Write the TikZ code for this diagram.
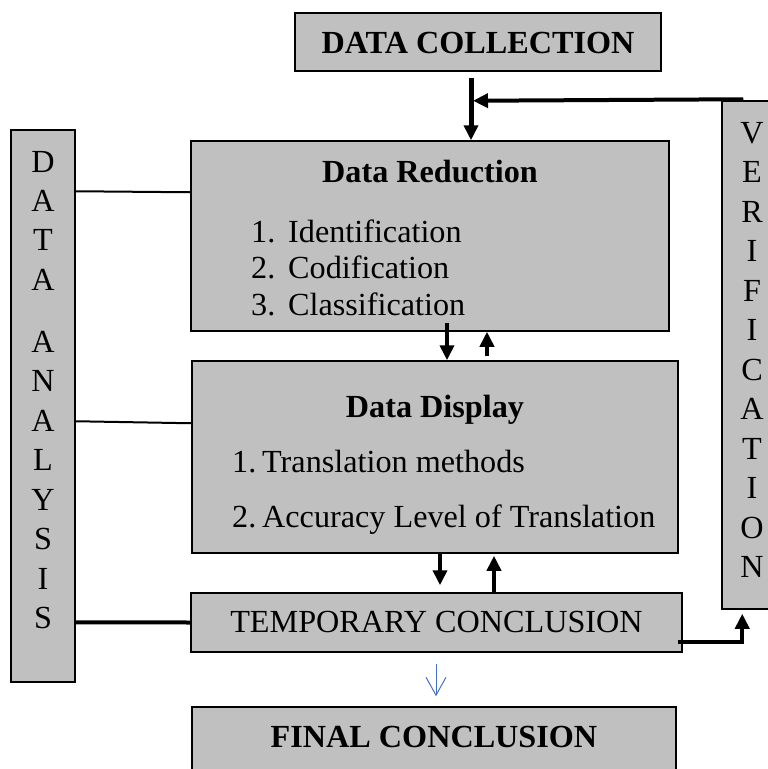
\documentclass[tikz,border=0pt]{standalone}
\usepackage{fontspec}
\setmainfont{Liberation Serif}
\usetikzlibrary{calc}
\usetikzlibrary{arrows.meta}
\definecolor{boxgray}{RGB}{192,192,192}
\definecolor{linkblue}{RGB}{68,114,196}

\begin{document}
\begin{tikzpicture}[x=1pt, y=-1pt,
  box/.style={draw=black, line width=1.5pt, fill=boxgray, inner sep=0pt},
  tx/.style={anchor=base, inner sep=0pt, font=\fontsize{32.2}{36}\selectfont},
  bigarrow/.style={line width=4pt, -{Triangle[length=15pt,width=14pt]}},
  link/.style={line width=2pt}]
\useasboundingbox (0,0) rectangle (768,769);
\clip (0,0) rectangle (768,769);
\node[box, minimum width=366pt, minimum height=58pt] (collect) at (478,42) {};
\node[box, minimum width=478pt, minimum height=190pt] (reduce) at (430,236) {};
\node[box, minimum width=486pt, minimum height=192pt] (display) at (435,457) {};
\node[box, minimum width=491pt, minimum height=59pt] (temp) at (436.5,622.5) {};
\node[box, minimum width=484pt, minimum height=90pt] (final) at (434,752) {};
\node[box, minimum width=64pt, minimum height=552pt] (analysis) at (43,406) {};
\node[box, minimum width=68pt, minimum height=508pt] (verify) at (756,355) {};
\node[tx] (collecttxt) at (478,53) {\bfseries DATA COLLECTION};
\node[tx] (reducetxt) at (430,182) {\bfseries Data Reduction};
\foreach \n/\w [evaluate=\n as \y using 242+36.5*(\n-1)] in {1/Identification,2/Codification,3/Classification} {
  \node[tx, anchor=base west] (reducenum\n) at (251,\y) {\n.};
  \node[tx, anchor=base west] (reduceitem\n) at (288,\y) {\w};
}
\node[tx] (displaytxt) at (435,417) {\bfseries Data Display};
\foreach \n/\w [evaluate=\n as \y using 472+55*(\n-1)] in {1/Translation methods,2/Accuracy Level of Translation} {
  \node[tx, anchor=base west] (displaynum\n) at (232,\y) {\n.};
  \node[tx, anchor=base west] (displayitem\n) at (262,\y) {\w};
}
\node[tx] (temptxt) at (436.5,632) {TEMPORARY CONCLUSION};
\node[tx] (finaltxt) at (434,747) {\bfseries FINAL CONCLUSION};
\foreach \c [count=\i, evaluate=\i as \y using 172+39.4*(\i-1)] in {D,A,T,A} {
  \node[tx] (data\i) at (43,\y) {\c};
}
\foreach \c [count=\i, evaluate=\i as \y using 352+39.5*(\i-1)] in {A,N,A,L,Y,S,I,S} {
  \node[tx] (analysis\i) at (43,\y) {\c};
}
\foreach \c [count=\i, evaluate=\i as \y using 143+39.5*(\i-1)] in {V,E,R,I,F,I,C,A,T,I,O,N} {
  \node[tx] (verify\i) at (752,\y) {\c};
}
\coordinate (join) at ($(collect.south)+(-5,29)$);
\draw[bigarrow, line width=5pt] ($(collect.south)+(-7,6)$) -- ($(collect.south |- reduce.north)+(-7,0)$);
\draw[bigarrow] ($(verify.north west)+(22,-1)$) -- (join);
\draw[bigarrow] ($(reduce.south)+(17,-9)$) -- ($(reduce.south |- display.north)+(17,0)$);
\draw[bigarrow] ($(reduce.south |- display.north)+(57,-4)$) -- ($(reduce.south)+(57,0)$);
\draw[bigarrow] ($(display.south)+(5,0)$) -- ($(display.south |- temp.north)+(5,-7)$);
\draw[bigarrow] ($(display.south |- temp.north)+(59,0)$) -- ($(display.south)+(59,2)$);
\draw[bigarrow] ($(temp.east)+(-5,19)$) -| ($(verify.south west)+(21,4)$);
\draw[linkblue, line width=1pt, -{Straight Barb[length=18pt,width=20pt]}] ($(temp.south)+(-0.5,11)$) -- ($(temp.south |- final.north)+(-0.5,-10)$);
\draw[link] ($(analysis.north east)+(0,62)$) -- ($(reduce.north west)+(0,52)$);
\draw[link] ($(analysis.north east)+(0,292)$) -- ($(display.north west)+(0,63)$);
\draw[link, line width=4pt] ($(analysis.north east)+(0,493)$) -- (temp.west);
\end{tikzpicture}
\end{document}
